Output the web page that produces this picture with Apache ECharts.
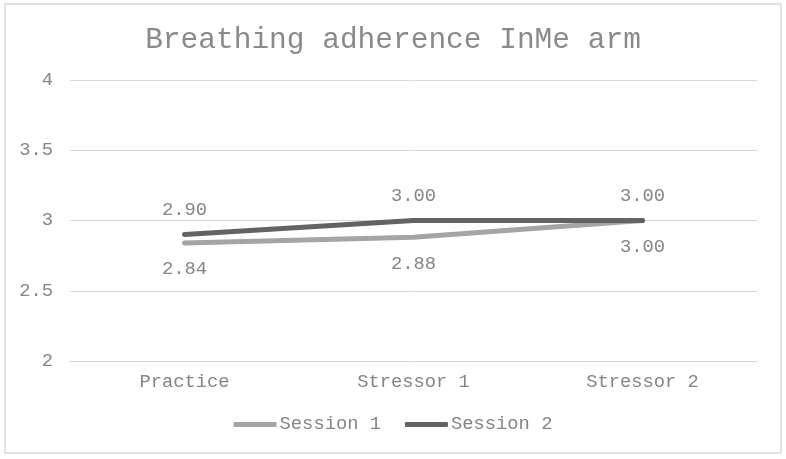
<!DOCTYPE html>
<html>
<head>
<meta charset="utf-8">
<script src="https://cdn.jsdelivr.net/npm/echarts@6/dist/echarts.min.js"></script>
<style>
  html, body { margin: 0; padding: 0; background: #fff; }
  #chart { width: 786px; height: 459px; }
</style>
</head>
<body>
<div id="chart"></div>
<script>
var categories = ['Practice', 'Stressor 1', 'Stressor 2'];
var session1 = [2.84, 2.88, 3.00];
var session2 = [2.90, 3.00, 3.00];
var yTicks = { min: 2, max: 4, interval: 0.5 };

var FONT = '"Liberation Mono", "Courier New", monospace';
var TEXT = '#858585';

var chart = echarts.init(document.getElementById('chart'));

function makeLabel(pos, dist) {
    return {
        show: true,
        position: pos,
        distance: dist,
        fontFamily: FONT,
        fontSize: 18.8,
        color: TEXT,
        formatter: function (p) { return p.value.toFixed(2); }
    };
}

var option = {
    animation: false,
    backgroundColor: '#fff',
    graphic: [{
        type: 'rect',
        shape: { x: 5, y: 4, width: 776, height: 449 },
        style: { fill: 'none', stroke: '#d9d9d9', lineWidth: 1.5 },
        silent: true
    }],
    title: {
        text: 'Breathing adherence InMe arm',
        left: 'center',
        top: 20,
        textStyle: { fontFamily: FONT, fontSize: 29.5, fontWeight: 'normal', color: '#8a8a8a' }
    },
    legend: {
        bottom: 20,
        left: 'center',
        itemWidth: 43,
        itemHeight: 5,
        itemGap: 24,
        icon: 'roundRect',
        textStyle: { fontFamily: FONT, fontSize: 18.8, color: TEXT, padding: [0, 0, 0, -2] },
        data: ['Session 1', 'Session 2']
    },
    grid: { left: 70, right: 29, top: 80, bottom: 98, containLabel: false },
    xAxis: {
        type: 'category',
        data: categories,
        boundaryGap: true,
        axisLine: { lineStyle: { color: '#d9d9d9', width: 1 } },
        axisTick: { show: false },
        axisLabel: { fontFamily: FONT, fontSize: 18.8, color: TEXT, margin: 12 }
    },
    yAxis: {
        type: 'value',
        min: yTicks.min,
        max: yTicks.max,
        interval: yTicks.interval,
        axisLine: { show: false },
        axisTick: { show: false },
        axisLabel: { fontFamily: FONT, fontSize: 18.8, color: TEXT, margin: 17 },
        splitLine: { lineStyle: { color: '#d9d9d9', width: 1 } }
    },
    series: [{
        name: 'Session 1',
        type: 'line',
        data: session1,
        showSymbol: true,
        symbol: 'circle',
        symbolSize: 0,
        color: '#a5a5a5',
        lineStyle: { width: 5, color: '#a5a5a5', cap: 'round' },
        label: makeLabel('bottom', 17)
    }, {
        name: 'Session 2',
        type: 'line',
        data: session2,
        showSymbol: true,
        symbol: 'circle',
        symbolSize: 0,
        color: '#636363',
        lineStyle: { width: 5, color: '#636363', cap: 'round' },
        label: makeLabel('top', 15)
    }]
};

chart.setOption(option);
</script>
</body>
</html>
